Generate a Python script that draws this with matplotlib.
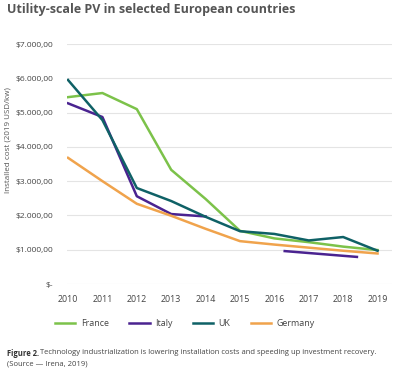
import matplotlib.pyplot as plt
from matplotlib.ticker import FuncFormatter

years = [2010, 2011, 2012, 2013, 2014, 2015, 2016, 2017, 2018, 2019]
france = [5450, 5570, 5100, 3330, 2480, 1550, 1330, 1220, 1090, 990]
uk = [5950, 4780, 2800, 2420, 1960, 1540, 1460, 1270, 1370, 970]
germany = [3680, 3000, 2340, 1990, 1610, 1250, 1150, 1060, 970, 890]
italy_years = [2010, 2011, 2012, 2013, 2014]
italy = [5270, 4870, 2560, 2040, 1970]
italy_late_years = [2016.3, 2018.4]
italy_late = [960, 790]

c_france = '#7cc24a'
c_italy = '#4a2390'
c_uk = '#0f6166'
c_germany = '#f0a34c'

plt.rcParams['font.family'] = ['Open Sans', 'DejaVu Sans']

fig = plt.figure(figsize=(4.0, 3.73), dpi=100)
ax = fig.add_axes([67/400, 1-284/373, (392-67)/400, (284-44)/373])

lw = 1.8
ax.plot(years, france, color=c_france, lw=lw, label='France')
ax.plot(italy_years, italy, color=c_italy, lw=lw, label='Italy')
ax.plot(italy_late_years, italy_late, color=c_italy, lw=lw)
ax.plot(years, uk, color=c_uk, lw=lw, label='UK')
ax.plot(years, germany, color=c_germany, lw=lw, label='Germany')

def money(v, pos):
    if v == 0:
        return '$-'
    return '$' + f'{v:,.2f}'.replace(',', 'X').replace('.', ',').replace('X', '.')

ax.set_ylim(0, 7000)
ax.set_xlim(2009.97, 2019.42)
ax.set_yticks(range(0, 7001, 1000))
ax.set_xticks(years)
ax.yaxis.set_major_formatter(FuncFormatter(money))
ax.grid(axis='y', color='#e4e4e4', lw=0.8)
ax.set_axisbelow(True)
for s in ax.spines.values():
    s.set_visible(False)
ax.tick_params(length=0, colors='#444444')
ax.tick_params(axis='y', pad=10, labelsize=6.0)
ax.tick_params(axis='x', pad=8, labelsize=6.4)

fig.text(8/400, 1-140/373, 'Installed cost (2019 USD/kw)', rotation=90,
         ha='center', va='center', fontsize=5.8, color='#555555')

fig.text(7/400, 1-9/373, 'Utility-scale PV in selected European countries',
         fontsize=9, fontweight='bold', color='#555555', ha='left', va='center')

ax.legend(loc='center', bbox_to_anchor=((185-67)/325, (284-324)/240), ncol=4,
          frameon=False, fontsize=6.4, handlelength=2.3, columnspacing=2.3,
          handletextpad=0.6, labelcolor='#444444')

fig.text(7/400, 1-353/373, 'Figure 2.', fontsize=5.5, color='#333333', va='center',
         fontweight='bold')
fig.text(40.5/400, 1-353/373,
         'Technology industrialization is lowering installation costs and speeding up investment recovery.',
         fontsize=5.5, color='#444444', va='center')
fig.text(7/400, 1-364/373, '(Source \u2014 Irena, 2019)', fontsize=5.5, color='#444444', va='center')

fig.savefig('out.png', dpi=100)
